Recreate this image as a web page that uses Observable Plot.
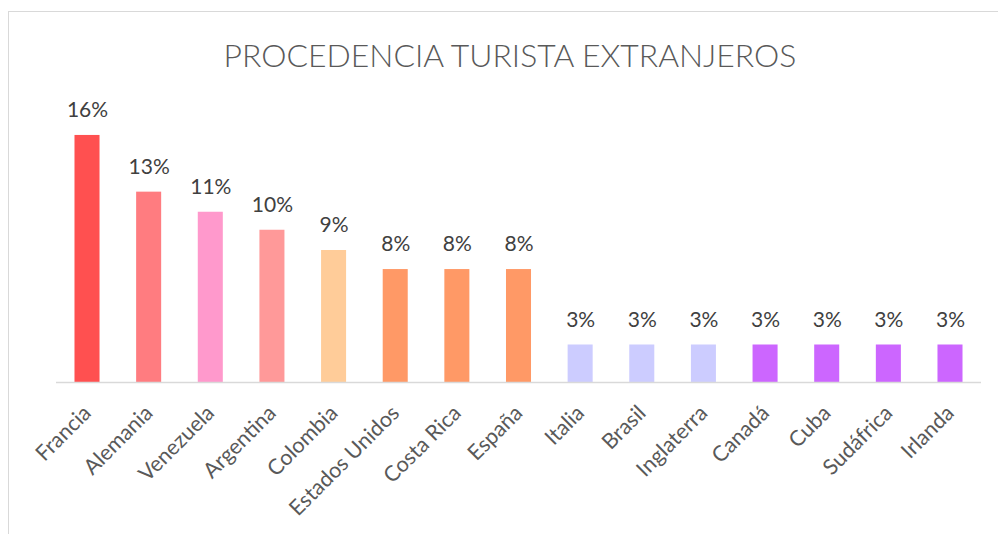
<!DOCTYPE html>
<html>
<head>
<meta charset="utf-8">
<script src="https://cdn.jsdelivr.net/npm/d3@7"></script>
<script src="https://cdn.jsdelivr.net/npm/@observablehq/plot@0.6"></script>
<style>
  html, body { margin: 0; padding: 0; background: #fff; }
  #wrap { position: relative; width: 998px; height: 534px; overflow: hidden; background: #fff; }
  #frame { position: absolute; left: 8px; top: 11px; width: 1100px; height: 700px;
           border-left: 1.5px solid #d9d9d9; border-top: 1.5px solid #d9d9d9; box-sizing: border-box; }
  #title { position: relative; height: 95px; }
  #title span { position: absolute; left: 22px; right: 0; top: 40px; text-align: center;
                font-family: Lato, "Open Sans", sans-serif; font-weight: 300; font-size: 30px; line-height: 30px;
                color: #595959; white-space: nowrap; }
  #chart { position: relative; }
</style>
</head>
<body>
<div id="wrap">
  <div id="frame"></div>
  <div id="title"><span id="tt">PROCEDENCIA TURISTA EXTRANJEROS</span></div>
  <div id="chart"></div>
</div>
<script>
const countries = ["Francia","Alemania","Venezuela","Argentina","Colombia","Estados Unidos","Costa Rica","España","Italia","Brasil","Inglaterra","Canadá","Cuba","Sudáfrica","Irlanda"];
const shares = [16.47, 12.69, 11.35, 10.15, 8.8, 7.53, 7.53, 7.53, 2.5, 2.5, 2.5, 2.5, 2.5, 2.5, 2.5];
const colors = ["#FF5050","#FF7C80","#FF99CC","#FF9999","#FFCC99","#FF9966","#FF9966","#FF9966","#CCCCFF","#CCCCFF","#CCCCFF","#CC66FF","#CC66FF","#CC66FF","#CC66FF"];

const data = countries.map((c, i) => ({country: c, value: shares[i], color: colors[i]}));

const plot = Plot.plot({
  width: 998,
  height: 439,
  marginLeft: 56,
  marginRight: 17,
  marginTop: 17,
  marginBottom: 152,
  style: {fontFamily: "Lato, 'Open Sans', sans-serif", background: "transparent", overflow: "visible"},
  x: {domain: countries, paddingInner: 0.594, paddingOuter: 0.3, round: false, label: null},
  y: {domain: [0, 18], axis: null},
  marks: [
    Plot.barY(data, {x: "country", y: "value", fill: "color"}),
    Plot.ruleY([0], {stroke: "#d9d9d9", strokeWidth: 1.5}),
    Plot.text(data, {x: "country", y: "value", text: d => `${Math.round(d.value)}%`,
      dy: -25, fontSize: 21, fill: "#404040"}),
    Plot.axisX({tickSize: 0, tickPadding: 27, tickRotate: -45, fontSize: 21.5, fill: "#595959", label: null})
  ]
});
document.getElementById("chart").appendChild(plot);

// fit title width to ~573px
const tt = document.getElementById("tt");
const range = document.createRange();
range.selectNodeContents(tt);
const w = range.getBoundingClientRect().width;
const fs = 30 * 573 / w;
tt.style.fontSize = fs + "px";
</script>
</body>
</html>
